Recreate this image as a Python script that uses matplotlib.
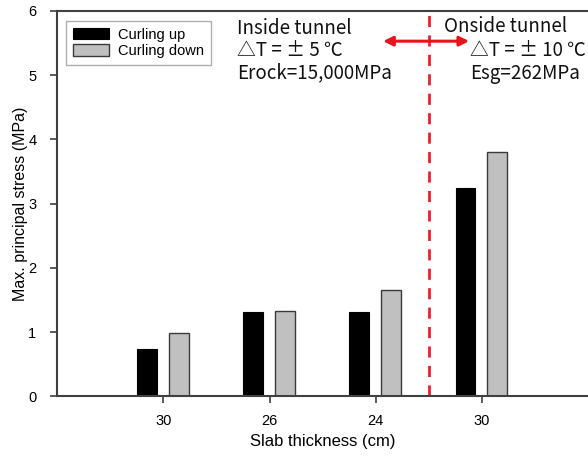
import matplotlib
matplotlib.use("Agg")
import matplotlib.pyplot as plt
import numpy as np

categories = ["30", "26", "24", "30"]
curling_up = [0.73, 1.31, 1.31, 3.25]
curling_down = [0.99, 1.33, 1.65, 3.80]
yticks = [0, 1, 2, 3, 4, 5, 6]

plt.rcParams['font.family'] = ['Liberation Sans', 'DejaVu Sans']

fig = plt.figure(figsize=(5.88, 4.58), dpi=100)
ax = fig.add_axes([0.0975, 0.1347, 0.9025, 0.8413])

x = np.arange(1, len(categories) + 1)
w = 0.185
ax.bar(x - 0.155, curling_up, w, color='black', edgecolor='black', linewidth=0.8, label='Curling up')
ax.bar(x + 0.145, curling_down, w, color='#C0C0C0', edgecolor='#3a3a3a', linewidth=1.0, label='Curling down')

ax.set_xlim(0, 5)
ax.set_ylim(0, 6)
ax.set_xticks(x)
ax.set_xticklabels(categories, fontsize=10.5)
ax.set_yticks(yticks)
ax.set_yticklabels([str(t) for t in yticks], fontsize=10.5)
ax.tick_params(direction='out', length=5, width=1.2, color='#404040', pad=8)
ax.tick_params(axis='y', pad=10)
for s in ['left', 'bottom', 'top']:
    ax.spines[s].set_color('#404040')
    ax.spines[s].set_linewidth(1.5)
ax.spines['right'].set_visible(False)

ax.set_xlabel('Slab thickness (cm)', fontsize=12, labelpad=4)
ax.set_ylabel('Max. principal stress (MPa)', fontsize=11.5, labelpad=0)

leg = ax.legend(loc='upper left', bbox_to_anchor=(0.003, 0.992), fontsize=10.5,
                frameon=True, fancybox=False, edgecolor='#9a9a9a',
                handlelength=2.5, handleheight=0.8, borderpad=0.45, labelspacing=0.15,
                handletextpad=0.6)
leg.get_frame().set_linewidth(1.0)

# Divider
ax.plot([3.5, 3.5], [0, 6], color='#e8232a', linestyle=(0, (4, 3)), linewidth=2.0)
ax.annotate('', xy=(3.07, 5.53), xytext=(3.88, 5.53),
            arrowprops=dict(arrowstyle='<|-|>', color='#e8131b', lw=2.2,
                            mutation_scale=14, shrinkA=0, shrinkB=0))

tfam = ['Noto Sans CJK KR', 'DejaVu Sans']
tkw = dict(fontsize=13.5, family=tfam, color='#111111', va='center', ha='left')
ax.text(1.69, 5.73, 'Inside tunnel', **tkw)
ax.text(1.69, 5.39, '\u25b3T = \u00b1 5 \u2103', **tkw)
ax.text(1.69, 5.03, 'Erock=15,000MPa', **tkw)
ax.text(3.64, 5.76, 'Onside tunnel', **tkw)
ax.text(3.89, 5.39, '\u25b3T = \u00b1 10 \u2103', **tkw)
ax.text(3.89, 5.03, 'Esg=262MPa', **tkw)

fig.savefig('out.png', dpi=100)
